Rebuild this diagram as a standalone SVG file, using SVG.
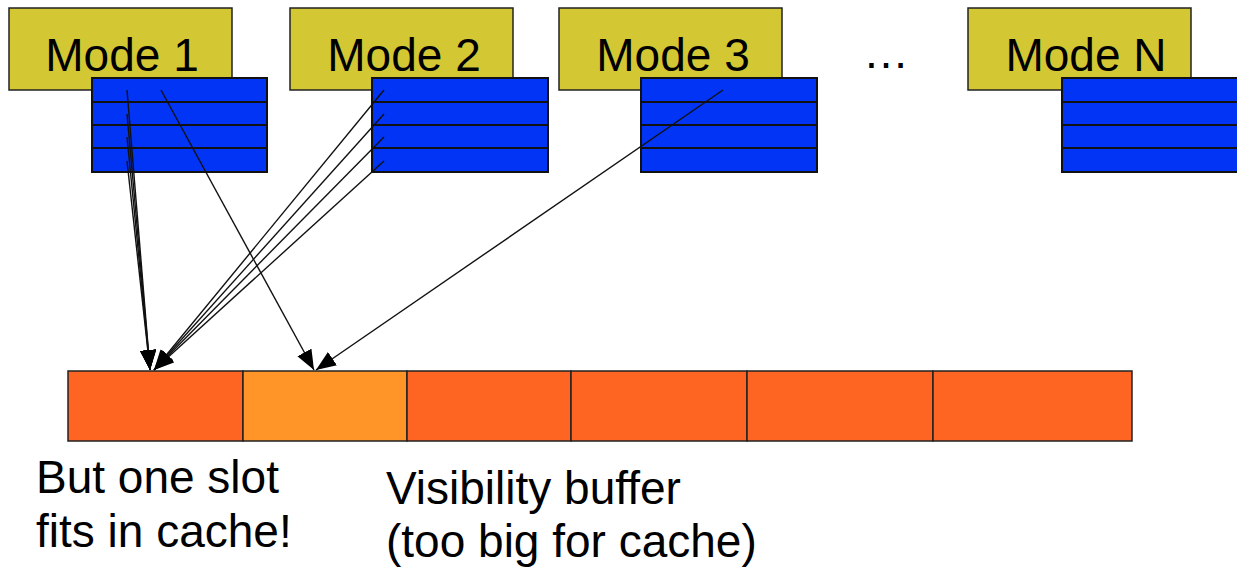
<svg xmlns="http://www.w3.org/2000/svg" width="1237" height="571" viewBox="0 0 1237 571">
<style>
.mode{fill:#D3C834;stroke:#222;stroke-width:1.5}
.tbl{fill:#0234F5;stroke:#111;stroke-width:2}
.row{stroke:#111;stroke-width:2}
.slot{fill:#FF6522;stroke:#222;stroke-width:1.5}
.slot2{fill:#FF9428;stroke:#222;stroke-width:1.5}
.t{font-family:"Liberation Sans",Arial,sans-serif;font-size:46px;fill:#000}
.c line{stroke:#111;stroke-width:1.4;marker-end:url(#ah)}
</style>
<defs>
<marker id="ah" viewBox="0 0 10 8" refX="10" refY="4" markerWidth="20" markerHeight="16" markerUnits="userSpaceOnUse" orient="auto">
<path d="M0,0 L10,4 L0,8 z" fill="#000"/>
</marker>
</defs>
<rect width="1237" height="571" fill="#fff"/>

<g id="mode1">
<rect class="mode" x="9" y="8" width="223" height="82"/>
<text class="t" x="122" y="71" text-anchor="middle">Mode 1</text>
<rect class="tbl" x="92" y="78" width="175" height="94"/>
<line class="row" x1="92" y1="102" x2="267" y2="102"/>
<line class="row" x1="92" y1="125" x2="267" y2="125"/>
<line class="row" x1="92" y1="148" x2="267" y2="148"/>
</g>
<g id="mode2">
<rect class="mode" x="290" y="8" width="223" height="82"/>
<text class="t" x="404" y="71" text-anchor="middle">Mode 2</text>
<rect class="tbl" x="372" y="78" width="176" height="94"/>
<line class="row" x1="372" y1="102" x2="548" y2="102"/>
<line class="row" x1="372" y1="125" x2="548" y2="125"/>
<line class="row" x1="372" y1="148" x2="548" y2="148"/>
</g>
<g id="mode3">
<rect class="mode" x="559" y="8" width="223" height="82"/>
<text class="t" x="673" y="71" text-anchor="middle">Mode 3</text>
<rect class="tbl" x="641" y="78" width="176" height="94"/>
<line class="row" x1="641" y1="102" x2="817" y2="102"/>
<line class="row" x1="641" y1="125" x2="817" y2="125"/>
<line class="row" x1="641" y1="148" x2="817" y2="148"/>
</g>
<g id="ellipsis">
<text class="t" x="886" y="68" text-anchor="middle">…</text>
</g>
<g id="modeN">
<rect class="mode" x="968" y="8" width="223" height="82"/>
<text class="t" x="1086" y="71" text-anchor="middle">Mode N</text>
<rect class="tbl" x="1062" y="78" width="178" height="94"/>
<line class="row" x1="1062" y1="102" x2="1237" y2="102"/>
<line class="row" x1="1062" y1="125" x2="1237" y2="125"/>
<line class="row" x1="1062" y1="148" x2="1237" y2="148"/>
</g>

<g id="buffer">
<rect class="slot" x="68" y="371" width="175" height="70"/>
<rect class="slot2" x="243" y="371" width="164" height="70"/>
<rect class="slot" x="407" y="371" width="164" height="70"/>
<rect class="slot" x="571" y="371" width="176" height="70"/>
<rect class="slot" x="747" y="371" width="186" height="70"/>
<rect class="slot" x="933" y="371" width="199" height="70"/>
</g>

<g id="connectors" class="c">
<line x1="127" y1="90" x2="150" y2="370"/>
<line x1="127" y1="114" x2="150" y2="370"/>
<line x1="127" y1="137" x2="150" y2="370"/>
<line x1="127" y1="161" x2="150" y2="370"/>
<line x1="161" y1="90" x2="314" y2="370"/>
<line x1="384" y1="90" x2="154" y2="370"/>
<line x1="384" y1="114" x2="154" y2="370"/>
<line x1="384" y1="137" x2="154" y2="370"/>
<line x1="384" y1="161" x2="154" y2="370"/>
<line x1="723" y1="90" x2="316" y2="370"/>
</g>

<g id="label1">
<text class="t" x="36" y="493">But one slot</text>
<text class="t" x="36" y="547">fits in cache!</text>
</g>
<g id="label2">
<text class="t" x="386" y="504">Visibility buffer</text>
<text class="t" x="386" y="557">(too big for cache)</text>
</g>
</svg>
